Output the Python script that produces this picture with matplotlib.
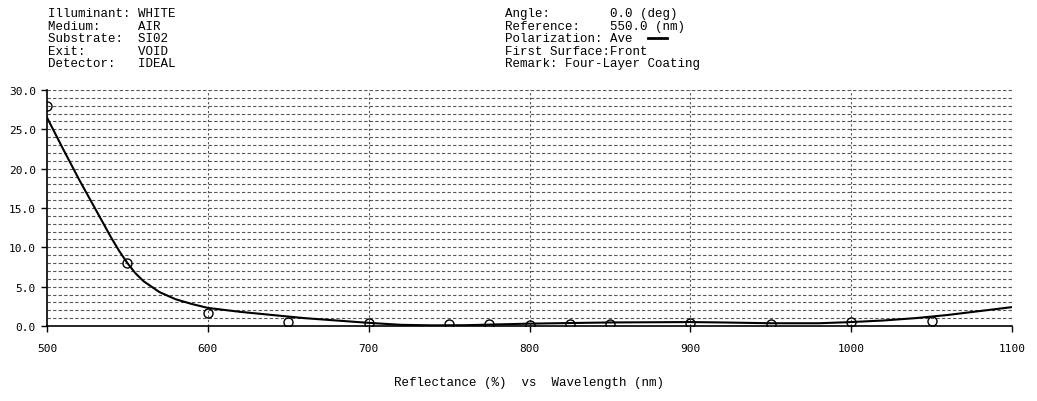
import matplotlib
matplotlib.use("Agg")
import matplotlib.pyplot as plt

# calculated reflectance curve
wave = [500, 510, 520, 530, 540, 545, 550, 555, 560, 570, 580, 590, 600, 620,
        640, 660, 680, 700, 720, 740, 760, 780, 800, 850, 900, 920, 950, 980,
        1000, 1020, 1040, 1060, 1080, 1100]
refl = [26.5, 22.5, 18.6, 14.9, 11.2, 9.5, 8.0, 6.7, 5.7, 4.3, 3.4, 2.8, 2.3,
        1.8, 1.4, 1.0, 0.7, 0.4, 0.15, 0.08, 0.1, 0.2, 0.3, 0.45, 0.5, 0.45,
        0.35, 0.35, 0.5, 0.7, 1.0, 1.4, 1.9, 2.4]

# target points (open circles)
target_wave = [500, 550, 600, 650, 700, 750, 775, 800, 825, 850, 900, 950,
               1000, 1050]
target_refl = [28.0, 8.0, 1.6, 0.5, 0.4, 0.3, 0.2, 0.1, 0.2, 0.3, 0.4, 0.3,
               0.5, 0.6]

left_info = ["Illuminant: WHITE", "Medium:     AIR", "Substrate:  SI02",
             "Exit:       VOID", "Detector:   IDEAL"]
right_info = ["Angle:        0.0 (deg)", "Reference:    550.0 (nm)",
              "Polarization: Ave", "First Surface:Front",
              "Remark: Four-Layer Coating"]

mono = "Liberation Mono"

fig = plt.figure(figsize=(10.37, 4.02), dpi=100)
ax = fig.add_axes([47 / 1037, 75 / 402, 965 / 1037, 236 / 402])

ax.set_xlim(500, 1100)
ax.set_ylim(0, 30)

# dashed grid, one line per percent, one per 100 nm
for y in range(1, 31):
    ax.axhline(y, color="#555555", lw=0.8, dashes=(3, 2), zorder=1)
for x in range(600, 1101, 100):
    ax.axvline(x, color="#555555", lw=0.8, dashes=(2, 2), zorder=1)

ax.plot(wave, refl, color="black", lw=1.5, zorder=3)
ax.plot(target_wave, target_refl, "o", ms=6.5, mfc="none", mec="black",
        mew=1.0, zorder=4)

ax.spines["top"].set_visible(False)
ax.spines["right"].set_visible(False)
ax.spines["left"].set_linewidth(1.2)
ax.spines["bottom"].set_linewidth(1.2)

ax.set_xticks(range(500, 1101, 100))
ax.set_yticks(range(0, 31, 5))
ax.set_yticklabels([f"{v:.1f}" for v in range(0, 31, 5)])
ax.tick_params(direction="out", length=4, width=1, labelsize=8, pad=4)
for lab in ax.get_xticklabels() + ax.get_yticklabels():
    lab.set_family("DejaVu Sans Mono")
ax.tick_params(axis="x", pad=8)

ax.set_xlabel("Reflectance (%)  vs  Wavelength (nm)", family=mono,
              fontsize=9, labelpad=17)

# header blocks
for i, s in enumerate(left_info):
    fig.text(48 / 1037, 1 - (14 + i * 12.6) / 402, s, family=mono,
             fontsize=9, va="center", ha="left")
for i, s in enumerate(right_info):
    fig.text(505 / 1037, 1 - (14 + i * 12.6) / 402, s, family=mono,
             fontsize=9, va="center", ha="left")

# legend stroke after "Ave"
fig.add_artist(plt.Line2D([648 / 1037, 667 / 1037],
                          [1 - 39 / 402, 1 - 39 / 402],
                          color="black", lw=2))

fig.savefig("out.png", dpi=100)
